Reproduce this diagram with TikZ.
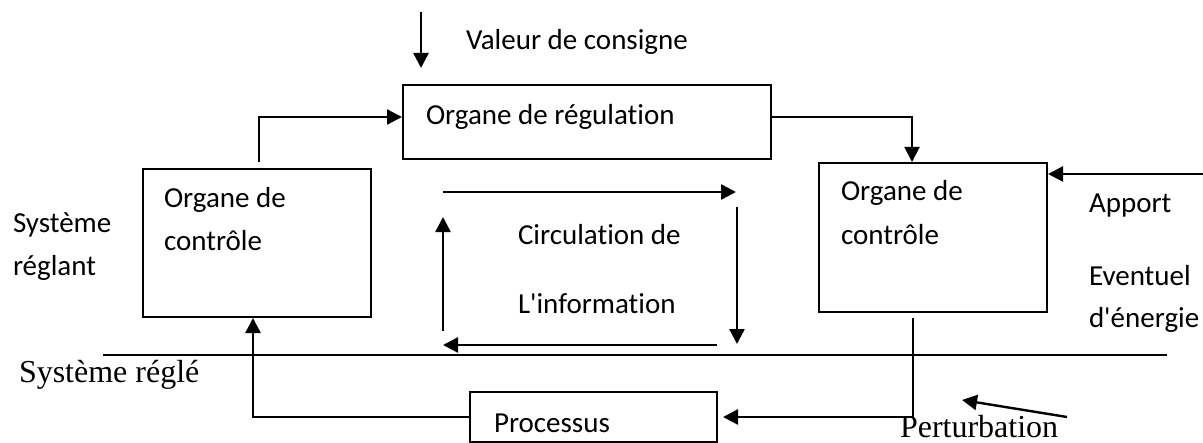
\documentclass[tikz,border=0pt]{standalone}
\usepackage{fontspec}
\setmainfont{Carlito}[Ligatures=NoCommon]
\newfontfamily\timesfont{Liberation Serif}
\usetikzlibrary{arrows.meta}

\begin{document}
\begin{tikzpicture}[x=0.5pt, y=-0.5pt, line width=1pt,
	box/.style={draw, rectangle, inner sep=0pt},
	arr/.style={-{Triangle[length=7.5pt,width=7.5pt]}, line width=1.2pt},
	lbl/.style={anchor=base west, inner sep=0pt, font=\fontsize{14.5}{17}\selectfont},
	serif/.style={anchor=base west, inner sep=0pt, font=\timesfont\fontsize{16}{19}\selectfont}]
	\useasboundingbox (0,0) rectangle (1203,443);
	
	%boxes
	\node[box, minimum width=184pt, minimum height=37pt] (regul) at (587,122) {};
	\node[box, minimum width=114pt, minimum height=74pt] (ctrlL) at (257,243) {};
	\node[box, minimum width=114pt, minimum height=74.5pt] (ctrlR) at (933,237.5) {};
	\node[box, minimum width=123.5pt, minimum height=25pt] (proc) at (593.5,417) {};
	
	%texts
	\node[lbl] (consigne) at (465,50) {Valeur de consigne};
	\node[lbl] (regtxt) at (425,125) {Organe de régulation};
	\node[lbl] (ctlL1) at (163,207) {Organe de};
	\node[lbl] (ctlL2) at (163,250) {contrôle};
	\node[lbl] (ctlR1) at (840,201) {Organe de};
	\node[lbl] (ctlR2) at (840,244) {contrôle};
	\node[lbl] (reglant1) at (12,233) {Système};
	\node[lbl] (reglant2) at (12,275) {réglant};
	\node[lbl] (circ1) at (517,244) {Circulation de};
	\node[lbl] (circ2) at (517,313) {L\textquotesingle information};
	\node[lbl] (apport1) at (1088,213) {Apport};
	\node[lbl] (apport2) at (1088,285) {Eventuel};
	\node[lbl] (apport3) at (1088,327) {d\textquotesingle énergie};
	\node[lbl] (proctxt) at (493,432) {Processus};
	\node[serif] (regle) at (18,382) {Système réglé};
	\node[serif] (perturb) at (899,437) {Perturbation};
	
	%separation line
	\coordinate (sep0) at (103,355);
	\coordinate (sep1) at (1167,355);
	\draw (sep0) -- (sep1);
	
	%consigne
	\coordinate (sp0) at (421,12);
	\coordinate (sp1) at (421,68);
	\draw[arr] (sp0) -- (sp1);
	
	%control loop
	\coordinate (up0) at (259,162);
	\coordinate (up1) at (259,117);
	\draw[arr] (up0) -- (up1) -- (up1 -| regul.west);
	\coordinate (rd) at (912,117);
	\draw[arr, line width=1pt] (rd -| regul.east) -| (rd |- ctrlR.north);
	\coordinate (dn) at (913,318);
	\draw[arr, shorten >=2.5pt] (dn) |- (proc.east);
	\coordinate (fb) at (253,0);
	\draw[arr] (proc.west) -| (fb |- ctrlL.south);
	
	%apport, perturbation
	\coordinate (ap) at (1203,174);
	\draw[arr] (ap) -- (ap -| ctrlR.east);
	\coordinate (pt0) at (1067,417);
	\coordinate (pt1) at (962,400);
	\draw[arr] (pt0) -- (pt1);
	
	%circulation
	\coordinate (c1) at (443,192);
	\coordinate (c2) at (736,192);
	\coordinate (c3) at (737,207);
	\coordinate (c4) at (737,344);
	\coordinate (c5) at (717,345);
	\coordinate (c6) at (443,345);
	\coordinate (c7) at (443,331);
	\coordinate (c8) at (443,217);
	\foreach \a/\b in {c1/c2, c3/c4, c5/c6, c7/c8}{
		\draw[arr] (\a) -- (\b);
	}
	
\end{tikzpicture}
\end{document}
